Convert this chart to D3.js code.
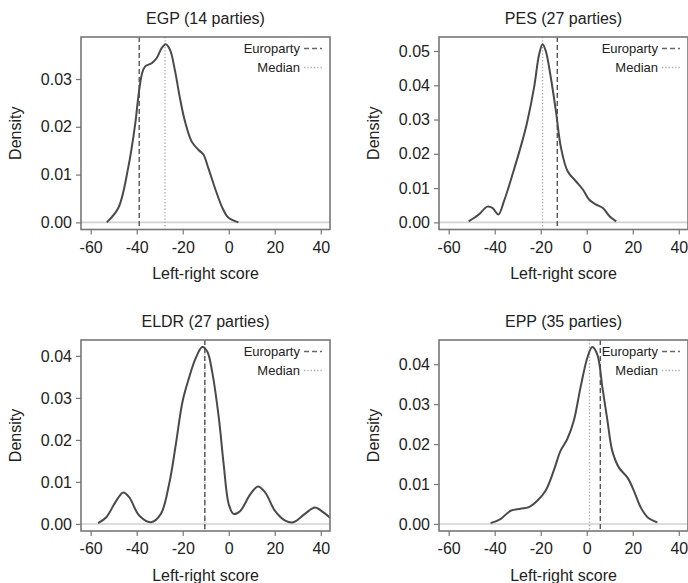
<!DOCTYPE html>
<html>
<head>
<meta charset="utf-8">
<script src="https://cdn.jsdelivr.net/npm/d3@7"></script>
<style>
  body { margin: 0; background: #fff; }
  text { font-family: "Liberation Sans", Arial, sans-serif; fill: #222; }
</style>
</head>
<body>
<div id="chart"></div>
<script>
// party groups and their sizes
const parties = ["EGP", "PES", "ELDR", "EPP"];
const partyCounts = [14, 27, 27, 35];

// europarty position and median of member parties (left-right score)
const europartyScore = [-38.9, -12.8, -10.4, 5.9];
const medianScore = [-27.7, -19.2, -10.4, 1.2];

// density curves
const egpX = [-53.0, -48.0, -43.7, -40.7, -39.3, -37.8, -36.4, -33.5, -31.3, -29.1, -27.4, -25.5, -23.3, -21.2, -19.0, -16.1, -13.2, -11.0, -8.9, -6.0, -3.0, -0.2, 4.2];
const egpY = [0.0000, 0.0030, 0.0114, 0.0204, 0.0262, 0.0309, 0.0326, 0.0333, 0.0344, 0.0365, 0.0373, 0.0361, 0.0316, 0.0260, 0.0211, 0.0169, 0.0152, 0.0142, 0.0114, 0.0072, 0.0033, 0.0010, 0.0000];

const pesX = [-51.3, -46.9, -43.2, -41.0, -38.4, -36.0, -32.3, -28.0, -25.8, -22.9, -20.7, -19.2, -17.8, -15.6, -13.4, -11.2, -8.3, -4.7, -1.7, 1.1, 4.1, 7.0, 9.9, 12.8];
const pesY = [0.0003, 0.0023, 0.0046, 0.0042, 0.0023, 0.0061, 0.0139, 0.0237, 0.0295, 0.0393, 0.0490, 0.0520, 0.0500, 0.0422, 0.0325, 0.0218, 0.0149, 0.0120, 0.0096, 0.0066, 0.0052, 0.0042, 0.0018, 0.0003];

const eldrX = [-56.8, -53.2, -48.9, -45.8, -43.2, -38.9, -33.8, -29.5, -25.9, -23.0, -20.1, -17.3, -14.4, -11.5, -9.3, -7.2, -4.3, -2.2, 0.0, 2.1, 5.0, 9.4, 12.7, 15.8, 20.1, 24.5, 28.0, 33.1, 37.4, 41.0, 44.6];
const eldrY = [0.0002, 0.0016, 0.0055, 0.0075, 0.0063, 0.0020, 0.0004, 0.0024, 0.0095, 0.0189, 0.0291, 0.0347, 0.0394, 0.0421, 0.0410, 0.0362, 0.0252, 0.0142, 0.0047, 0.0024, 0.0031, 0.0071, 0.0089, 0.0075, 0.0031, 0.0008, 0.0004, 0.0024, 0.0039, 0.0028, 0.0012];

const eppX = [-41.8, -37.5, -33.1, -28.8, -25.2, -21.5, -17.9, -14.3, -11.4, -8.5, -5.6, -2.7, 0.3, 2.4, 4.6, 6.8, 9.0, 11.1, 14.0, 17.7, 20.5, 23.5, 26.4, 30.7];
const eppY = [0.0002, 0.0012, 0.0033, 0.0038, 0.0042, 0.0058, 0.0083, 0.0134, 0.0183, 0.0212, 0.0259, 0.0342, 0.0417, 0.0443, 0.0424, 0.0342, 0.0259, 0.0183, 0.0141, 0.0116, 0.0083, 0.0041, 0.0017, 0.0004];

const curvesX = [egpX, pesX, eldrX, eppX];
const curvesY = [egpY, pesY, eldrY, eppY];

const xTicks = [-60, -40, -20, 0, 20, 40];
const xDomain = [-64.2, 44];

const width = 688, height = 583;
const boxW = 249;
const boxLeft = [81, 439, 81, 439];
const boxTop = [37, 37, 340, 340];
const boxH = [192.5, 192.5, 191, 191];

const svg = d3.select("#chart")
    .append("svg")
    .attr("width", width)
    .attr("height", height);

parties.forEach((name, i) => {
    const w = boxW, h = boxH[i];
    const g = svg.append("g")
        .attr("transform", "translate(" + boxLeft[i] + "," + boxTop[i] + ")");

    const ys = curvesY[i];
    const ymax = d3.max(ys);
    const x = d3.scaleLinear().domain(xDomain).range([0, w]);
    // lattice style padding: 4% either side
    const y = d3.scaleLinear().domain([-0.04 * ymax, 1.04 * ymax]).range([h, 0]);

    g.append("clipPath").attr("id", "clip" + i)
        .append("rect").attr("width", w).attr("height", h);

    const inner = g.append("g").attr("clip-path", "url(#clip" + i + ")");

    // zero reference line
    inner.append("line")
        .attr("x1", 0).attr("x2", w)
        .attr("y1", y(0)).attr("y2", y(0))
        .attr("stroke", "#d2d2d2")
        .attr("stroke-width", 1.6);

    // median (dotted)
    inner.append("line")
        .attr("x1", x(medianScore[i])).attr("x2", x(medianScore[i]))
        .attr("y1", 0).attr("y2", h)
        .attr("stroke", "#a8a8a8")
        .attr("stroke-width", 1.3)
        .attr("stroke-dasharray", "1.3,2");

    // europarty (dashed)
    inner.append("line")
        .attr("x1", x(europartyScore[i])).attr("x2", x(europartyScore[i]))
        .attr("y1", 0).attr("y2", h)
        .attr("stroke", "#555")
        .attr("stroke-width", 1.4)
        .attr("stroke-dasharray", "5,3");

    const pts = curvesX[i].map((v, k) => [v, ys[k]]);
    const line = d3.line()
        .x(d => x(d[0]))
        .y(d => y(d[1]))
        .curve(d3.curveCatmullRom.alpha(0.5));

    inner.append("path")
        .datum(pts)
        .attr("d", line)
        .attr("fill", "none")
        .attr("stroke", "#4a4a4a")
        .attr("stroke-width", 2);

    // panel frame
    g.append("rect")
        .attr("width", w).attr("height", h)
        .attr("fill", "none")
        .attr("stroke", "#777")
        .attr("stroke-width", 1.6);

    // axes
    const xAxis = g.append("g")
        .attr("transform", "translate(0," + h + ")")
        .call(d3.axisBottom(x).tickValues(xTicks).tickSize(5).tickPadding(7).tickFormat(d => String(d)));
    const yAxis = g.append("g")
        .call(d3.axisLeft(y).tickValues(d3.range(0, ymax + 1e-9, 0.01)).tickSize(5).tickPadding(4).tickFormat(d => d.toFixed(2)));
    [xAxis, yAxis].forEach(a => {
        a.select(".domain").remove();
        a.selectAll(".tick line").attr("stroke", "#777").attr("stroke-width", 1.2);
        a.selectAll(".tick text").attr("font-size", 16).attr("fill", "#222")
            .attr("font-family", "Liberation Sans, Arial, sans-serif");
    });

    // titles
    g.append("text")
        .attr("x", w / 2).attr("y", -13.5)
        .attr("text-anchor", "middle")
        .attr("font-size", 16)
        .text(name + " (" + partyCounts[i] + " parties)");

    g.append("text")
        .attr("x", w / 2).attr("y", h + 49.5)
        .attr("text-anchor", "middle")
        .attr("font-size", 16)
        .text("Left-right score");

    g.append("text")
        .attr("transform", "translate(-60," + (h / 2) + ") rotate(-90)")
        .attr("text-anchor", "middle")
        .attr("font-size", 16)
        .text("Density");

    // key
    const keyLabels = ["Europarty", "Median"];
    const keyDash = ["5,3", "1.3,2"];
    const keyColor = ["#666", "#aaa"];
    keyLabels.forEach((lab, k) => {
        const by = 16 + k * 19;
        g.append("text")
            .attr("x", w - 30).attr("y", by)
            .attr("text-anchor", "end")
            .attr("font-size", 13)
            .text(lab);
        g.append("line")
            .attr("x1", w - 26).attr("x2", w - 8)
            .attr("y1", by - 4.5).attr("y2", by - 4.5)
            .attr("stroke", keyColor[k])
            .attr("stroke-width", 1.4)
            .attr("stroke-dasharray", keyDash[k]);
    });
});
</script>
</body>
</html>
